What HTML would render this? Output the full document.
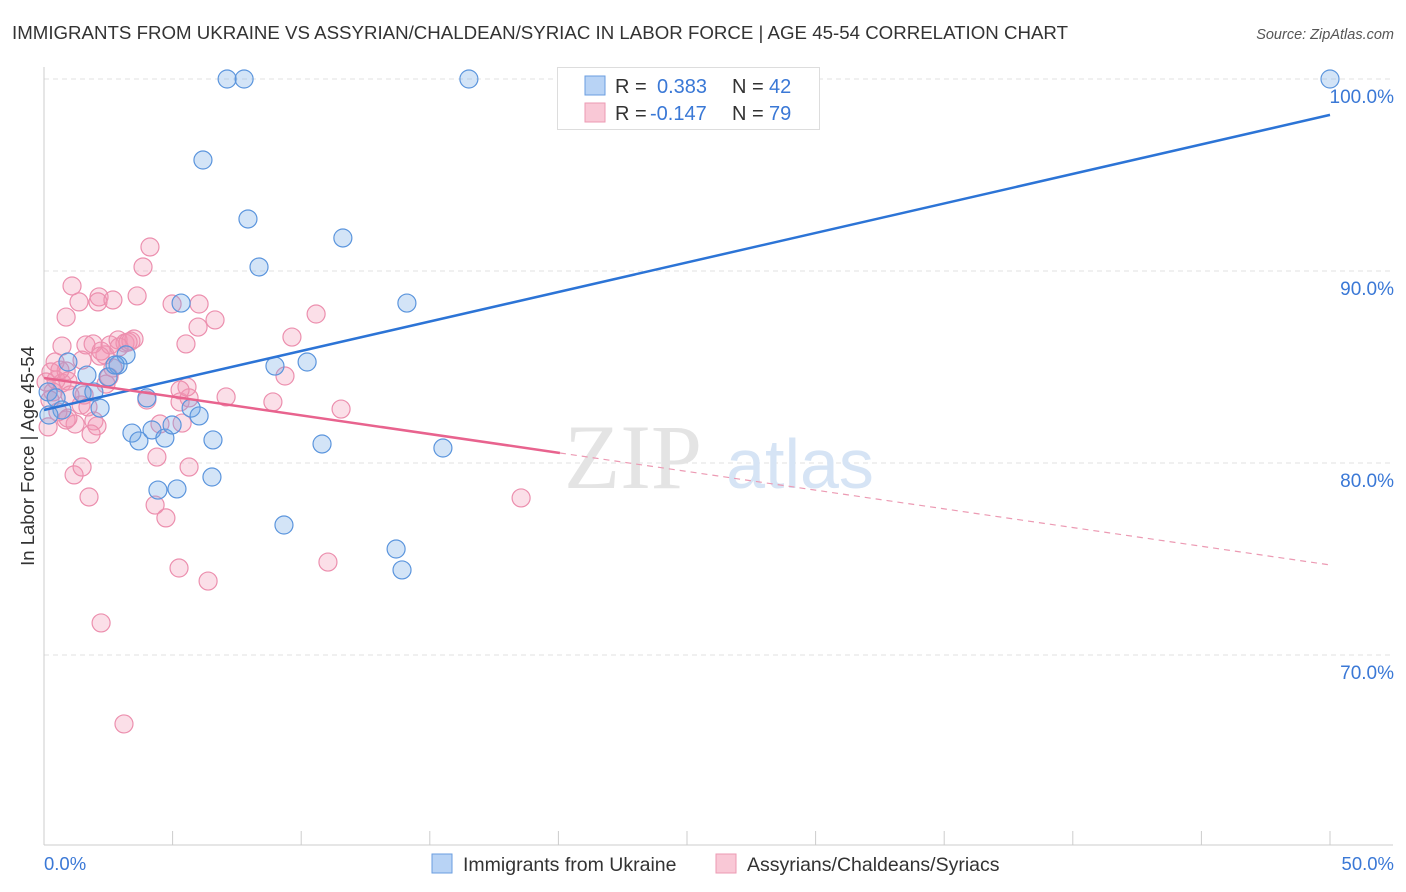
<!DOCTYPE html>
<html><head><meta charset="utf-8">
<style>
body{margin:0;background:#fff;font-family:"Liberation Sans",sans-serif;}
svg{display:block}
</style></head>
<body>
<svg id="chart" width="1406" height="892">
<text x="12" y="39" font-size="18" fill="#333" textLength="1056" lengthAdjust="spacingAndGlyphs">IMMIGRANTS FROM UKRAINE VS ASSYRIAN/CHALDEAN/SYRIAC IN LABOR FORCE | AGE 45-54 CORRELATION CHART</text>
<text x="1394" y="39" font-size="14.5" fill="#555" font-style="italic" text-anchor="end">Source: ZipAtlas.com</text>
<g id="grid"></g>
<text x="633" y="488" font-size="92" fill="#e4e4e4" font-family="Liberation Serif,serif" text-anchor="middle">ZIP</text>
<text x="800" y="488" font-size="70" fill="#d6e4f5" text-anchor="middle">atlas</text>
<g id="axes"></g>
<g id="pts"></g>
<g id="lines"></g>
<text transform="translate(34,456) rotate(-90)" font-size="18.5" fill="#333" text-anchor="middle">In Labor Force | Age 45-54</text>
<text x="44" y="870" font-size="18.5" fill="#3a78d6">0.0%</text>
<text x="1394" y="870" font-size="18.5" fill="#3a78d6" text-anchor="end">50.0%</text>
<g>
<rect x="557.5" y="67.5" width="262" height="62" fill="#fff" stroke="#ddd"/>
<rect x="585" y="76" width="20" height="19" fill="#b8d3f5" stroke="#6a9ee0"/>
<rect x="585" y="103" width="20" height="19" fill="#f9c8d6" stroke="#ec9ab3"/>
<text x="615" y="93" font-size="20" fill="#333">R =</text>
<text x="657" y="93" font-size="20" fill="#3a78d6">0.383</text>
<text x="732" y="93" font-size="20" fill="#333">N =</text>
<text x="769" y="93" font-size="20" fill="#3a78d6">42</text>
<text x="615" y="120" font-size="20" fill="#333">R =</text>
<text x="650" y="120" font-size="20" fill="#3a78d6">-0.147</text>
<text x="732" y="120" font-size="20" fill="#333">N =</text>
<text x="769" y="120" font-size="20" fill="#3a78d6">79</text>
</g>
<g>
<rect x="432" y="854" width="20" height="19" fill="#b8d3f5" stroke="#6a9ee0"/>
<text x="463" y="871" font-size="19.5" fill="#333">Immigrants from Ukraine</text>
<rect x="716" y="854" width="20" height="19" fill="#f9c8d6" stroke="#ec9ab3"/>
<text x="747" y="871" font-size="19.5" fill="#333">Assyrians/Chaldeans/Syriacs</text>
</g>
</svg>
<script>
const yTicks=[100,90,80,70];
const yTickLabels=["100.0%","90.0%","80.0%","70.0%"];
const xTicks=[0,5,10,15,20,25,30,35,40,45,50];
const blueX=[7.12,7.78,16.52,50.0,6.18,7.93,11.62,8.36,5.33,14.11,0.93,3.19,2.88,1.67,2.49,8.98,10.23,0.16,0.47,1.48,1.94,2.18,0.70,0.19,4.0,5.72,6.03,3.42,3.69,4.2,4.7,4.98,6.57,10.81,15.51,4.43,5.17,6.53,9.33,13.69,13.92,2.76];
const blueY=[100,100,100,100,95.78,92.71,91.72,90.21,88.33,88.33,85.26,85.63,85.1,84.58,84.48,85.05,85.26,83.7,83.39,83.65,83.7,82.86,82.76,82.5,83.39,82.86,82.45,81.56,81.15,81.72,81.3,81.98,81.2,80.99,80.78,78.59,78.65,79.27,76.77,75.52,74.43,85.1];
const pinkX=[3.11,2.22,6.38,5.25,11.04,18.55,1.75,1.17,1.48,4.74,4.32,4.39,5.64,5.37,4.51,0.16,0.86,1.94,2.06,1.83,1.21,1.44,1.71,5.29,4.0,5.64,7.08,8.9,11.55,5.56,0.47,0.7,0.86,0.93,0.43,1.48,2.37,2.68,2.53,0.62,0.27,0.7,1.63,1.91,2.22,2.57,2.88,3.15,3.38,3.5,2.92,9.37,9.64,5.52,5.99,6.65,10.58,0.86,1.36,2.14,2.1,2.68,3.62,4.98,6.03,1.09,3.85,4.12,0.35,0.23,0.54,0.93,2.18,3.27,1.56,2.41,1.01,0.08,5.29];
const pinkY=[66.41,71.67,73.85,74.53,74.84,78.18,78.23,79.38,79.79,77.14,77.81,80.31,79.79,82.08,82.03,81.88,82.24,82.19,81.93,81.51,82.03,83.02,82.92,83.18,83.28,83.39,83.44,83.18,82.81,83.96,84.32,84.17,84.79,84.27,85.26,85.36,85.63,84.95,84.48,84.84,84.74,86.09,86.15,86.2,85.83,86.15,86.41,86.25,86.35,86.46,86.04,84.53,86.56,86.2,87.08,87.45,87.76,87.6,88.39,88.65,88.39,88.49,88.7,88.28,88.28,89.22,90.21,91.25,83.7,83.28,82.66,82.34,85.57,86.3,83.54,84.11,83.54,84.22,83.8];
const blueTrend=[82.76,98.13]; // values at x=0 and x=50
const pinkTrend=[84.43,74.69];
const pinkSolidEnd=20.06;

const sx=v=>44+v*(1286/50);
const sy=v=>79+(100-v)*19.2;
const NS="http://www.w3.org/2000/svg";
function mk(tag,attrs,parent){const e=document.createElementNS(NS,tag);for(const k in attrs)e.setAttribute(k,attrs[k]);parent.appendChild(e);return e;}
const grid=document.getElementById('grid'),axes=document.getElementById('axes'),pts=document.getElementById('pts'),lines=document.getElementById('lines');
yTicks.forEach((t,i)=>{
  const l=mk('line',{x1:44,x2:1393,y1:sy(t),y2:sy(t),stroke:'#e2e2e2','stroke-dasharray':'5,4'},grid);
  
  
  const tx=mk('text',{x:1394,y:sy(t)+24,'font-size':19,fill:'#3a78d6','text-anchor':'end'},grid);
  tx.textContent=yTickLabels[i];
  
  
});
const xa=mk('line',{x1:44,x2:1393,y1:845,y2:845,stroke:'#ccc'},axes);


const ya=mk('line',{x1:44,x2:44,y1:67,y2:845,stroke:'#ccc'},axes);


xTicks.forEach(t=>{
  const l=mk('line',{x1:sx(t),x2:sx(t),y1:831,y2:845,stroke:'#ccc'},axes);
  
  
});
pinkX.forEach((x,i)=>{
  const c=mk('circle',{cx:sx(x),cy:sy(pinkY[i]),r:9,fill:'rgba(242,150,178,0.3)',stroke:'#ec8fae','stroke-width':1.2},pts);
  
  
});
blueX.forEach((x,i)=>{
  const c=mk('circle',{cx:sx(x),cy:sy(blueY[i]),r:9,fill:'rgba(110,165,230,0.3)',stroke:'#5b95dd','stroke-width':1.2},pts);
  
  
});
const bl=mk('line',{x1:sx(0),y1:sy(blueTrend[0]),x2:sx(50),y2:sy(blueTrend[1]),stroke:'#2c74d6','stroke-width':2.5},lines);


const pAt=x=>pinkTrend[0]+(pinkTrend[1]-pinkTrend[0])*x/50;
const pl=mk('line',{x1:sx(0),y1:sy(pinkTrend[0]),x2:sx(pinkSolidEnd),y2:sy(pAt(pinkSolidEnd)),stroke:'#e8638e','stroke-width':2.5},lines);


const pd=mk('line',{x1:sx(pinkSolidEnd),y1:sy(pAt(pinkSolidEnd)),x2:sx(50),y2:sy(pinkTrend[1]),stroke:'#ec9ab3','stroke-width':1.2,'stroke-dasharray':'6,5'},lines);


</script>
</body></html>
